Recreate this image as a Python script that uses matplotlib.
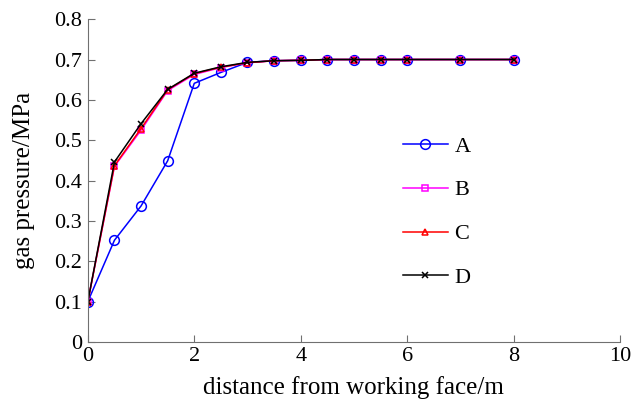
import matplotlib
matplotlib.use("Agg")
import matplotlib.pyplot as plt

# distance from working face (m)
x = [0, 0.5, 1, 1.5, 2, 2.5, 3, 3.5, 4, 4.5, 5, 5.5, 6, 7, 8]
# gas pressure (MPa) for each case
a = [0.1, 0.252, 0.337, 0.449, 0.641, 0.668, 0.693, 0.697, 0.698, 0.7, 0.7, 0.7, 0.7, 0.7, 0.7]
b = [0.1, 0.435, 0.525, 0.623, 0.663, 0.680, 0.692, 0.697, 0.698, 0.7, 0.7, 0.7, 0.7, 0.7, 0.7]
c = [0.1, 0.437, 0.529, 0.625, 0.665, 0.681, 0.692, 0.697, 0.698, 0.7, 0.7, 0.7, 0.7, 0.7, 0.7]
d = [0.1, 0.446, 0.541, 0.626, 0.666, 0.682, 0.693, 0.697, 0.698, 0.7, 0.7, 0.7, 0.7, 0.7, 0.7]
labels = ['A', 'B', 'C', 'D']

plt.rcParams['font.family'] = ['Liberation Serif', 'DejaVu Serif']

fig = plt.figure(figsize=(6.32, 4.08), dpi=100)
ax = fig.add_axes([0.139, 0.162, 0.842, 0.791])

ax.plot(x, a, color='#0000ff', marker='o', mfc='none', ms=7, mew=1.1, lw=1.1, label=labels[0])
ax.plot(x, b, color='#ff00ff', marker='s', mfc='none', ms=4.5, mew=1.1, lw=1.1, label=labels[1])
ax.plot(x, c, color='#ff0000', marker='^', mfc='none', ms=4.5, mew=1.1, lw=1.1, label=labels[2])
ax.plot(x, d, color='black', marker='x', ms=5, mew=1.1, lw=1.1, label=labels[3])

ax.set_xlim(0, 10)
ax.set_ylim(0, 0.8)
ax.set_xticks([0, 2, 4, 6, 8, 10])
ax.set_yticks([0, 0.1, 0.2, 0.3, 0.4, 0.5, 0.6, 0.7, 0.8])
ax.set_yticklabels(['0', '0.1', '0.2', '0.3', '0.4', '0.5', '0.6', '0.7', '0.8'])
ax.tick_params(direction='in', length=5, color='#707070', labelsize=16, pad=4)

for s in ['top', 'right']:
    ax.spines[s].set_visible(False)
for s in ['left', 'bottom']:
    ax.spines[s].set_color('#707070')

ax.set_xlabel('distance from working face/m', fontsize=18, labelpad=7)
ax.set_ylabel('gas pressure/MPa', fontsize=18, labelpad=14)

ax.legend(loc='upper left', bbox_to_anchor=(0.555, 0.70), frameon=False,
          fontsize=16, labelspacing=1.05, handlelength=2.0, handletextpad=0.3)

fig.savefig('out.png', dpi=100)
